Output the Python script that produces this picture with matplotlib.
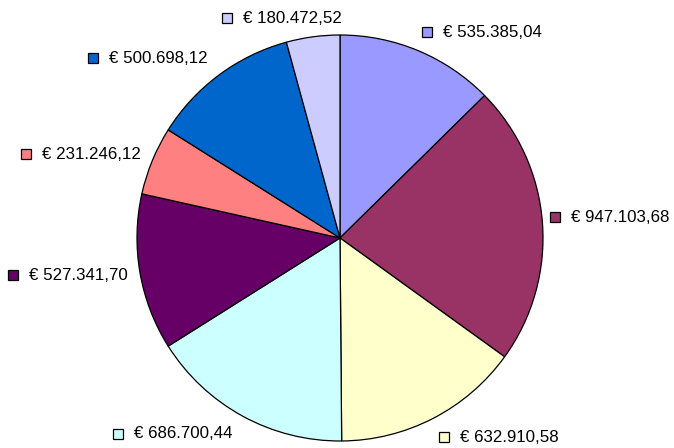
#!/usr/bin/env python3
"""Pie chart of euro amounts, Excel-style labels with colour keys."""
import matplotlib
matplotlib.use("Agg")
import matplotlib.pyplot as plt
from matplotlib.patches import Rectangle

# ---------------------------------------------------------------------------
# Data (clockwise from 12 o'clock)
# ---------------------------------------------------------------------------
values = [535385.04, 947103.68, 632910.58, 686700.44,
          527341.70, 231246.12, 500698.12, 180472.52]
labels = ["€ 535.385,04", "€ 947.103,68", "€ 632.910,58", "€ 686.700,44",
          "€ 527.341,70", "€ 231.246,12", "€ 500.698,12", "€ 180.472,52"]
colors = ["#9999FF", "#993366", "#FFFFCC", "#CCFFFF",
          "#660066", "#FF8080", "#0066CC", "#CCCCFF"]

# label key-square positions (left edge x, centre y) in image pixels, y down
label_pos = [(422, 32), (550, 217), (439, 437), (113, 434),
             (8, 275), (21, 154), (88, 58), (222, 18)]

W, H = 674, 448
CX, CY, R = 340, 238, 203
SQ = 9.5

fig = plt.figure(figsize=(W / 100, H / 100), dpi=100)
ax = fig.add_axes([0, 0, 1, 1])

ax.pie(values, colors=colors, startangle=90, counterclock=False,
       center=(CX, H - CY), radius=R, frame=True,
       wedgeprops=dict(edgecolor="black", linewidth=0.9))
ax.set_xlim(0, W)
ax.set_ylim(0, H)
ax.axis("off")

for (x, y), text, col in zip(label_pos, labels, colors):
    yy = H - y
    ax.add_patch(Rectangle((x, yy - SQ / 2), SQ, SQ, facecolor=col,
                           edgecolor="black", linewidth=0.9, zorder=5))
    ax.text(x + 21, yy, text, fontsize=12.2, family="Liberation Sans",
            ha="left", va="center", color="black", zorder=5)

fig.savefig("out.png", dpi=100, facecolor="white")
